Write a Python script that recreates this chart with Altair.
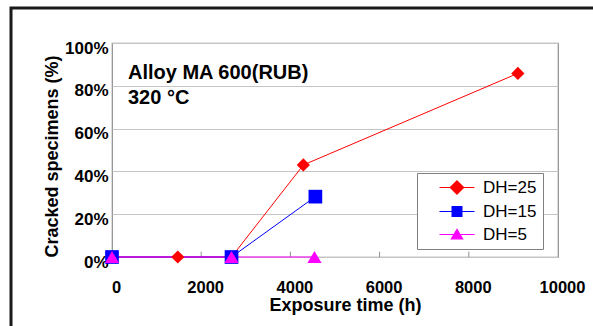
import altair as alt
import pandas as pd

series_names = ["DH=25", "DH=15", "DH=5"]
series_colors = ["#ff0000", "#0000ff", "#ff00ff"]

dh25_time = [0, 1475, 2680, 4290, 9100]
dh25_cracked = [0.0, 0.0, 0.0, 0.43, 0.858]
dh15_time = [0, 2680, 4560]
dh15_cracked = [0.0, 0.0, 0.282]
dh5_time = [0, 2680, 4540]
dh5_cracked = [0.0, 0.0, 0.0]

x_ticks = [0, 2000, 4000, 6000, 8000, 10000]
y_ticks = [0, 0.2, 0.4, 0.6, 0.8, 1.0]
inner_ticks = [2000, 4000, 6000, 8000]

annotation_lines = ["Alloy MA 600(RUB)", "320 °C"]
x_title = "Exposure time (h)"
y_title = "Cracked specimens (%)"

rows = []
for name, ts, vs in zip(series_names,
                        [dh25_time, dh15_time, dh5_time],
                        [dh25_cracked, dh15_cracked, dh5_cracked]):
    for t, v in zip(ts, vs):
        rows.append({"series": name, "marker": name, "time": t, "cracked": v})
df = pd.DataFrame(rows)

W, H = 446, 214
FONT = "Liberation Sans"

x_enc = alt.X("time:Q", scale=alt.Scale(domain=[0, 10000], nice=False),
              axis=alt.Axis(values=x_ticks, format="d", title=x_title, grid=False,
                            ticks=False, domain=False, labelPadding=22, labelOffset=4,
                            labelFont=FONT, labelFontSize=16.5, labelFontWeight="bold",
                            labelColor="black", labelFlush=False, labelOverlap=False,
                            titleFont=FONT, titleFontSize=18, titleFontWeight="bold",
                            titleColor="black", titleX=233, titleY=39,
                            titleAlign="center", titleBaseline="top"))
y_enc = alt.Y("cracked:Q", scale=alt.Scale(domain=[0, 1], nice=False),
              axis=alt.Axis(values=y_ticks, format=".0%", title=y_title, grid=True,
                            gridColor="#c4c4c4", gridWidth=1,
                            ticks=False, domain=False, labelPadding=4, labelOffset=5,
                            labelFont=FONT, labelFontSize=17, labelFontWeight="bold",
                            labelColor="black", labelFlush=False, labelOverlap=False,
                            titleFont=FONT, titleFontSize=18, titleFontWeight="bold",
                            titleColor="black", titleX=-60, titleY=113, titleAngle=270,
                            titleAlign="center", titleBaseline="middle"))

base = alt.Chart(df)

lines = base.mark_line(strokeWidth=1).encode(
    x=x_enc, y=y_enc,
    color=alt.Color("series:N", scale=alt.Scale(domain=series_names, range=series_colors),
                    legend=None),
)

points = base.mark_point(filled=True, opacity=1).encode(
    x="time:Q", y="cracked:Q",
    color=alt.Color("marker:N", scale=alt.Scale(domain=series_names, range=series_colors),
                    legend=None),
    shape=alt.Shape("marker:N", scale=alt.Scale(domain=series_names,
                                                range=["diamond", "square", "triangle-up"]),
                    legend=None),
    size=alt.Size("marker:N", scale=alt.Scale(domain=series_names, range=[175, 200, 200]),
                  legend=None),
)

legend_paths = [
    "M-2.5,0H2.5M-0.95,0L0,-0.95L0.95,0L0,0.95Z",
    "M-2.5,0H2.5M-0.7,-0.7H0.7V0.7H-0.7Z",
    "M-2.5,0H2.5M-0.8,0.62L0,-0.72L0.8,0.62Z",
]
leg = alt.Legend(title=None, orient="none", legendX=305, legendY=130,
                 symbolSize=196, symbolStrokeWidth=1.2, symbolOffset=25.5,
                 symbolOpacity=1, labelExpr="datum.label + '\u00a0\u00a0\u00a0'",
                 labelOffset=17.5, labelFont=FONT, labelFontSize=17,
                 labelColor="black", padding=6, rowPadding=5,
                 strokeColor="#808080", fillColor="white", cornerRadius=0)

legend_layer = base.mark_point(filled=False, strokeWidth=1.2, opacity=1).encode(
    x="time:Q", y="cracked:Q",
    color=alt.Color("series:N", scale=alt.Scale(domain=series_names, range=series_colors),
                    legend=leg),
    fill=alt.Fill("series:N", scale=alt.Scale(domain=series_names, range=series_colors),
                  legend=leg),
    shape=alt.Shape("series:N", scale=alt.Scale(domain=series_names, range=legend_paths),
                    legend=leg),
).transform_filter("false")

tick_df = pd.DataFrame({"t": inner_ticks})
inner = alt.Chart(tick_df).mark_rule(color="#909090", strokeWidth=1).encode(
    x="t:Q", y=alt.datum(0), y2=alt.datum(0.025))

ann1 = alt.Chart(pd.DataFrame({"txt": [annotation_lines[0]]})).mark_text(
    align="left", baseline="alphabetic", font=FONT, fontSize=20, fontWeight="bold",
    color="black").encode(text="txt:N", x=alt.value(16), y=alt.value(36))
ann2 = alt.Chart(pd.DataFrame({"txt": [annotation_lines[1]]})).mark_text(
    align="left", baseline="alphabetic", font=FONT, fontSize=20, fontWeight="bold",
    color="black").encode(text="txt:N", x=alt.value(16), y=alt.value(61))

frame = alt.Chart(pd.DataFrame({"f": [0]})).mark_rect(
    fill="transparent", stroke="#1a1a1a", strokeWidth=3).encode(
    x=alt.value(-101), x2=alt.value(500), y=alt.value(-35), y2=alt.value(320))

chart = alt.layer(frame, inner, lines, points, legend_layer, ann1, ann2).resolve_scale(
    color="independent", shape="independent", size="independent", fill="independent"
).properties(
    width=W, height=H,
    autosize=alt.AutoSizeParams(type="none"),
    padding={"left": 112, "top": 43, "right": 593 - 112 - W, "bottom": 326 - 43 - H},
    background="white",
).configure_view(stroke="#8c8c8c", strokeWidth=1.2)

chart.save("out.html", embed_options={"renderer": "svg", "actions": False})
